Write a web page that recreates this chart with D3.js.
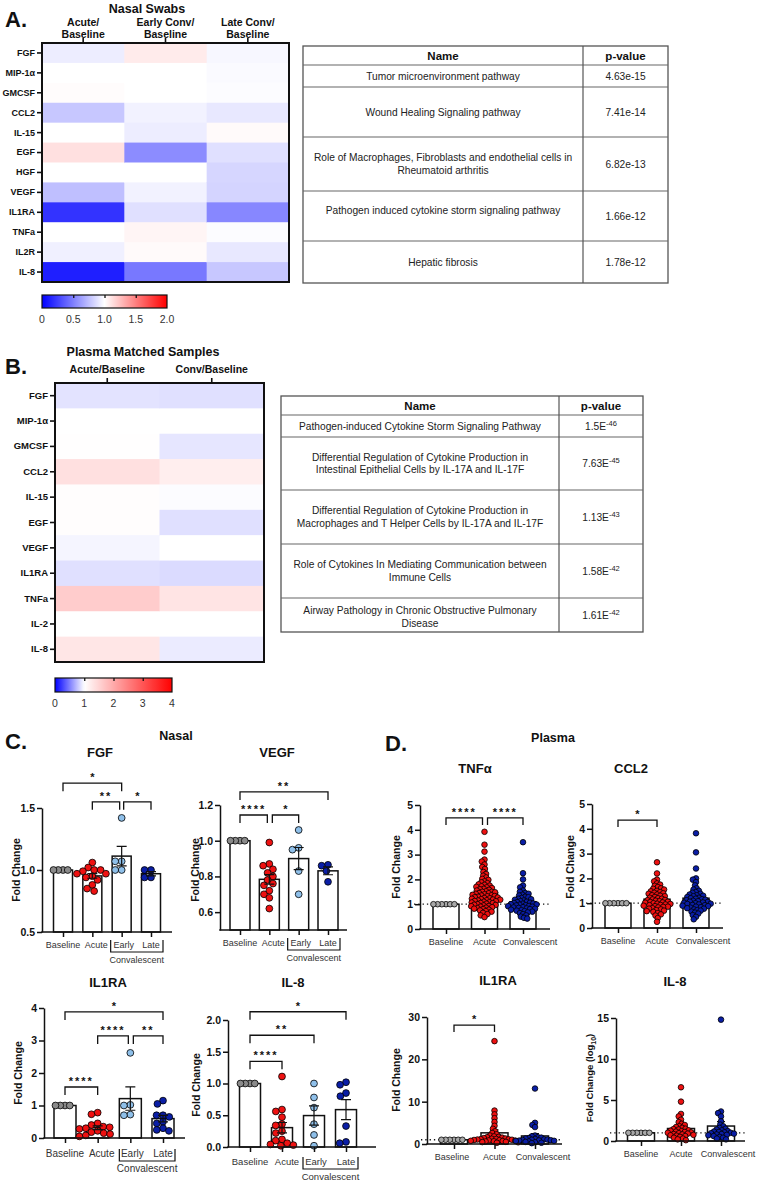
<!DOCTYPE html>
<html><head><meta charset="utf-8">
<script src="https://cdn.jsdelivr.net/npm/d3@7"></script>
<style>
body{margin:0;background:#fff;}
svg{display:block;font-family:"Liberation Sans",Arial,Helvetica,sans-serif;}
</style></head><body>
<svg id="fig" width="758" height="1181"></svg>
<script>
// ---------------- DATA ----------------
const heatRowsA = ["FGF","MIP-1α","GMCSF","CCL2","IL-15","EGF","HGF","VEGF","IL1RA","TNFa","IL2R","IL-8"];
const heatColsA = [["Acute/","Baseline"],["Early Conv/","Baseline"],["Late Conv/","Baseline"]];
const heatAcuteA = [0.93,1.0,1.01,0.78,1.0,1.12,1.0,0.75,0.2,1.0,0.94,0.12];
const heatEarlyA = [1.08,1.0,1.0,0.95,0.93,0.55,1.0,0.95,0.88,1.04,1.02,0.47];
const heatLateA  = [0.97,0.98,0.99,0.91,1.02,0.88,0.84,0.83,0.53,0.99,0.91,0.78];
const colorTicksA = [0,0.5,1.0,1.5,2.0];

const heatRowsB = ["FGF","MIP-1α","GMCSF","CCL2","IL-15","EGF","VEGF","IL1RA","TNFa","IL-2","IL-8"];
const heatColsB = [["Acute/Baseline"],["Conv/Baseline"]];
const heatAcuteB = [0.89,1.0,1.01,1.36,1.02,1.02,0.96,0.88,1.6,1.0,1.3];
const heatConvB  = [0.88,1.0,0.9,1.2,0.99,0.88,1.0,0.86,1.32,1.0,0.92];
const colorTicksB = [0,1,2,3,4];

const tableHeader = ["Name","p-value"];
const tableANames = [["Tumor microenvironment pathway"],["Wound Healing Signaling pathway"],
  ["Role of Macrophages, Fibroblasts and endothelial cells in","Rheumatoid arthritis"],
  ["Pathogen induced cytokine storm signaling pathway"],["Hepatic fibrosis"]];
const tableAP = ["4.63e-15","7.41e-14","6.82e-13","1.66e-12","1.78e-12"];
const tableBNames = [["Pathogen-induced Cytokine Storm Signaling Pathway"],
  ["Differential Regulation of Cytokine Production in","Intestinal Epithelial Cells by IL-17A and IL-17F"],
  ["Differential Regulation of Cytokine Production in","Macrophages and T Helper Cells by IL-17A and IL-17F"],
  ["Role of Cytokines In Mediating Communication between","Immune Cells"],
  ["Airway Pathology in Chronic Obstructive Pulmonary","Disease"]];
const tableBMant = ["1.5E","7.63E","1.13E","1.58E","1.61E"];
const tableBExp = ["-46","-45","-43","-42","-42"];

const nasalCats = ["Baseline","Acute","Early","Late"];
const fgfBase = [1,1,1,1];
const fgfAcute = [1.06,1.02,1.0,1.0,0.99,0.97,0.97,0.95,0.94,0.92,0.88,0.85,0.83];
const fgfEarly = [1.42,1.07,1.07,1.0,1.0];
const fgfLate = [1.0,1.0,0.94,0.94];
const vegfBase = [1,1,1,1];
const vegfAcute = [0.99,0.87,0.86,0.84,0.82,0.80,0.78,0.76,0.75,0.72,0.70,0.68,0.62];
const vegfEarly = [1.06,0.96,0.95,0.83,0.70];
const vegfLate = [0.865,0.86,0.83,0.77];
const il1raNBase = [1,1,1,1];
const il1raNAcute = [0.78,0.73,0.45,0.40,0.35,0.33,0.30,0.28,0.22,0.18,0.15,0.12,0.08,0.05];
const il1raNEarly = [2.62,1.02,1.0,0.72,0.70];
const il1raNLate = [1.15,1.05,0.7,0.7,0.65,0.5,0.45,0.3,0.25,0.22];
const il8NBase = [1,1,1,1];
const il8NAcute = [1.11,0.59,0.56,0.47,0.36,0.34,0.25,0.22,0.12,0.10,0.06,0.04,0.03,0.02];
const il8NEarly = [1.0,0.78,0.62,0.36,0.19,0.02];
const il8NLate = [1.02,0.98,0.85,0.80,0.33,0.08,0.06];

const plasmaCats = ["Baseline","Acute","Convalescent"];
const tnfBase = [1,1,1,1,1,1];
const tnfAcute = [3.92,3.4,3.12,2.8,2.72,2.6,2.5,2.42,2.3,2.22,2.15,2.08,2.02,1.98,1.92,1.88,1.85,1.8,1.78,1.75,1.72,1.7,1.68,1.65,1.62,1.6,1.58,1.55,1.52,1.5,1.5,1.48,1.45,1.44,1.42,1.4,1.38,1.36,1.35,1.33,1.32,1.3,1.28,1.27,1.25,1.24,1.22,1.2,1.19,1.18,1.16,1.15,1.13,1.12,1.1,1.08,1.07,1.05,1.04,1.02,1.0,0.98,0.97,0.95,0.93,0.92,0.9,0.88,0.86,0.84,0.82,0.8,0.78,0.75,0.72,0.7,0.65,0.6,0.55,0.48];
const tnfConv = [3.5,2.25,2.0,1.75,1.68,1.55,1.5,1.45,1.42,1.38,1.35,1.3,1.28,1.25,1.22,1.2,1.18,1.15,1.12,1.1,1.08,1.06,1.05,1.03,1.02,1.0,0.99,0.98,0.96,0.95,0.93,0.92,0.9,0.88,0.87,0.85,0.83,0.82,0.8,0.78,0.76,0.74,0.72,0.7,0.67,0.64,0.6,0.55,0.5,0.45,0.42];
const ccl2Base = [1,1,1,1,1,1];
const ccl2Acute = [2.65,2.2,1.95,1.88,1.8,1.75,1.7,1.65,1.6,1.58,1.55,1.5,1.48,1.45,1.42,1.4,1.38,1.35,1.32,1.3,1.28,1.25,1.22,1.2,1.18,1.15,1.13,1.12,1.1,1.08,1.06,1.05,1.03,1.02,1.0,0.98,0.97,0.95,0.93,0.92,0.9,0.88,0.86,0.85,0.83,0.8,0.78,0.75,0.72,0.7,0.68,0.65,0.6,0.55,0.5,0.4,0.25];
const ccl2Conv = [3.82,3.05,2.4,2.0,1.95,1.85,1.72,1.6,1.55,1.5,1.45,1.42,1.38,1.35,1.32,1.3,1.28,1.25,1.22,1.2,1.18,1.16,1.14,1.12,1.1,1.08,1.06,1.05,1.03,1.02,1.0,0.98,0.97,0.95,0.93,0.92,0.9,0.88,0.86,0.84,0.82,0.8,0.78,0.75,0.72,0.7,0.66,0.62,0.58,0.52,0.45,0.35];
const il1raPBase = [1,1,1,1,1,1];
const il1raPAcute = [24.3,7.9,7.0,6.1,5.2,4.3,3.6,3.0,2.6,2.3,2.0,1.8,1.7,1.6,1.5,1.4,1.3,1.25,1.2,1.15,1.1,1.05,1.0,0.95,0.9,0.85,0.8,0.75,0.7,0.65,0.6,0.5,0.45,0.4,0.3];
const il1raPConv = [13.1,5.0,4.5,4.0,2.0,1.8,1.6,1.5,1.4,1.3,1.2,1.1,1.05,1.0,0.95,0.9,0.85,0.8,0.75,0.7,0.6,0.5,0.4,0.3,0.2];
const il8PBase = [1,1,1,1,1,1];
const il8PAcute = [6.55,4.8,3.3,3.0,2.6,2.3,2.1,1.95,1.8,1.7,1.6,1.5,1.45,1.4,1.3,1.25,1.2,1.15,1.1,1.05,1.0,0.95,0.9,0.85,0.8,0.75,0.7,0.65,0.6,0.5,0.4,0.3,0.2,0.1];
const il8PConv = [14.8,3.6,3.4,3.0,2.4,2.0,1.8,1.6,1.5,1.4,1.3,1.2,1.15,1.1,1.05,1.0,0.95,0.9,0.85,0.8,0.75,0.7,0.6,0.5,0.4,0.3,0.2];

// ---------------- DRAWING ----------------
const svg = d3.select("#fig");
const INK = "#111";
function txt(g, x, y, s, o = {}) {
  return g.append("text").attr("x", x).attr("y", y).text(s)
    .attr("font-size", o.size || 11).attr("font-weight", o.bold ? "bold" : "normal")
    .attr("text-anchor", o.anchor || "middle").attr("fill", o.fill || INK);
}

txt(svg, 5, 27, "A.", {size: 22, bold: true, anchor: "start"});
txt(svg, 147, 13, "Nasal Swabs", {size: 12.5, bold: true});
txt(svg, 5, 374, "B.", {size: 22, bold: true, anchor: "start"});
txt(svg, 143, 356, "Plasma Matched Samples", {size: 12.5, bold: true});
txt(svg, 5, 749, "C.", {size: 22, bold: true, anchor: "start"});
txt(svg, 176, 740, "Nasal", {size: 12.5, bold: true});
txt(svg, 385, 751, "D.", {size: 22, bold: true, anchor: "start"});
txt(svg, 553, 742, "Plasma", {size: 12.5, bold: true});

function heatmap(o) {
  const g = svg.append("g");
  const x = d3.scaleBand().domain(d3.range(o.cols.length)).range([o.x0, o.x1]);
  const y = d3.scaleBand().domain(o.rows).range([o.y0, o.y1]);
  o.matrix.forEach((colVals, ci) => {
    g.selectAll(null).data(colVals).enter().append("rect")
      .attr("x", x(ci)).attr("y", (d, i) => y(o.rows[i]))
      .attr("width", x.bandwidth() + 0.6).attr("height", y.bandwidth() + 0.6)
      .attr("fill", d => o.color(d));
  });
  g.append("rect").attr("x", o.x0).attr("y", o.y0).attr("width", o.x1 - o.x0).attr("height", o.y1 - o.y0)
    .attr("fill", "none").attr("stroke", INK).attr("stroke-width", 2);
  const ya = g.append("g").attr("transform", `translate(${o.x0},0)`)
    .call(d3.axisLeft(y).tickSize(5).tickPadding(2));
  ya.select(".domain").remove();
  ya.selectAll("line").attr("stroke", INK).attr("stroke-width", 1.6);
  ya.selectAll("text").attr("font-size", o.rowFont).attr("font-weight", "bold").attr("fill", INK)
    .attr("font-family", "Liberation Sans, Arial, sans-serif");
  const xa = g.append("g").attr("transform", `translate(0,${o.y0})`)
    .call(d3.axisTop(x).tickSize(5).tickFormat(""));
  xa.select(".domain").remove();
  xa.selectAll("line").attr("stroke", INK).attr("stroke-width", 1.6);
  o.cols.forEach((lines, ci) => {
    lines.forEach((l, li) => txt(g, x(ci) + x.bandwidth() / 2, o.headY[li], l, {size: 10.5, bold: true}));
  });
}

function colorbar(o) {
  const id = "grad" + o.id;
  const grad = svg.append("defs").append("linearGradient").attr("id", id);
  const s = d3.scaleLinear().domain([o.ticks[0], o.ticks[o.ticks.length - 1]]).range([o.x0, o.x1]);
  d3.range(0, 1.0001, 0.02).forEach(t => {
    const v = o.ticks[0] + t * (o.ticks[o.ticks.length - 1] - o.ticks[0]);
    grad.append("stop").attr("offset", (t * 100) + "%").attr("stop-color", o.color(v));
  });
  svg.append("rect").attr("x", o.x0).attr("y", o.y0).attr("width", o.x1 - o.x0).attr("height", o.h)
    .attr("fill", `url(#${id})`).attr("stroke", INK).attr("stroke-width", 1.2);
  const ax = svg.append("g").attr("transform", `translate(0,${o.y0})`)
    .call(d3.axisTop(s).tickValues(o.ticks.slice(1, -1)).tickSize(-3).tickFormat(""));
  ax.select(".domain").remove();
  ax.selectAll("line").attr("stroke", INK).attr("stroke-width", 1.3);
  svg.append("g").selectAll("text").data(o.ticks).enter().append("text")
    .attr("x", d => s(d)).attr("y", o.labelY).attr("text-anchor", "middle")
    .attr("font-size", 10.5).attr("fill", "#333").text(d => o.fmt(d));
}

const colorA = d3.scaleLinear().domain([0, 1, 2]).range(["#0000ff", "#ffffff", "#ff0000"]).clamp(true);
const colorB = d3.scaleLinear().domain([0, 1, 4]).range(["#0000ff", "#ffffff", "#ff0000"]).clamp(true);

heatmap({rows: heatRowsA, cols: heatColsA, matrix: [heatAcuteA, heatEarlyA, heatLateA], color: colorA,
  x0: 42, x1: 289, y0: 43, y1: 282, rowFont: 9, headY: [26, 38]});
colorbar({id: "A", x0: 42, x1: 167, y0: 295, h: 13, labelY: 323, ticks: colorTicksA, color: colorA,
  fmt: d => d === 0 ? "0" : d3.format(".1f")(d)});
heatmap({rows: heatRowsB, cols: heatColsB, matrix: [heatAcuteB, heatConvB], color: colorB,
  x0: 55, x1: 264, y0: 383, y1: 662, rowFont: 9.5, headY: [373]});
colorbar({id: "B", x0: 55, x1: 172, y0: 678, h: 14, labelY: 707, ticks: colorTicksB, color: colorB,
  fmt: d => String(d)});

function table(o) {
  const g = svg.append("g");
  const bounds = [o.y0];
  o.heights.forEach(h => bounds.push(bounds[bounds.length - 1] + h));
  const yEnd = bounds[bounds.length - 1];
  g.append("rect").attr("x", o.x0).attr("y", o.y0).attr("width", o.x1 - o.x0).attr("height", yEnd - o.y0)
    .attr("fill", "none").attr("stroke", "#555").attr("stroke-width", 1.3);
  bounds.slice(1, -1).forEach(b => g.append("line").attr("x1", o.x0).attr("x2", o.x1).attr("y1", b).attr("y2", b)
    .attr("stroke", "#666").attr("stroke-width", 1.1));
  g.append("line").attr("x1", o.xDiv).attr("x2", o.xDiv).attr("y1", o.y0).attr("y2", yEnd)
    .attr("stroke", "#555").attr("stroke-width", 1.2);
  const cN = (o.x0 + o.xDiv) / 2, cP = (o.xDiv + o.x1) / 2;
  const hc = (bounds[0] + bounds[1]) / 2 + 4;
  txt(g, cN, hc, tableHeader[0], {size: 11.5, bold: true});
  txt(g, cP, hc, tableHeader[1], {size: 11.5, bold: true});
  o.names.forEach((lines, i) => {
    const c = (bounds[i + 1] + bounds[i + 2]) / 2;
    const sh = (o.nameShift && o.nameShift[i]) || 0;
    lines.forEach((l, li) => txt(g, cN, c + sh + (li - (lines.length - 1) / 2) * o.lh + 3.5, l, {size: 10.2, fill: "#222"}));
    const t = txt(g, cP, c + 3.5, o.pMant ? o.pMant[i] : o.p[i], {size: 10.2, fill: "#222"});
    if (o.pExp) t.append("tspan").attr("font-size", 7.5).attr("dy", -4).text(o.pExp[i]);
  });
}
table({x0: 303, xDiv: 583, x1: 668, y0: 46, heights: [19, 22, 50, 54, 50, 42], lh: 13,
  names: tableANames, p: tableAP, nameShift: [0, 0, 0, -6, 0]});
table({x0: 281, xDiv: 559, x1: 643, y0: 396, heights: [19, 22, 53, 54, 54, 34], lh: 12.5,
  names: tableBNames, pMant: tableBMant, pExp: tableBExp, nameShift: [0, 0, 0, 0, 2]});

function swarm(vals, y, r, factor) {
  const d = 2 * r * factor;
  const pts = vals.map(v => ({v, py: y(v)})).sort((a, b) => d3.descending(a.v, b.v));
  const placed = [];
  pts.forEach(p => {
    const iv = [];
    placed.forEach(q => {
      const dy = Math.abs(q.py - p.py);
      if (dy < d) { const w = Math.sqrt(d * d - dy * dy); iv.push([q.dx - w, q.dx + w]); }
    });
    const cands = [0];
    iv.forEach(v => cands.push(v[0], v[1]));
    cands.sort((a, b) => Math.abs(a) - Math.abs(b) || a - b);
    let dx = 0;
    for (const c of cands) {
      if (iv.every(v => c <= v[0] + 1e-6 || c >= v[1] - 1e-6)) { dx = c; break; }
    }
    p.dx = dx; placed.push(p);
  });
  return pts;
}

function chart(c) {
  const g = svg.append("g");
  const x = d3.scalePoint().domain(c.cats).range(c.centers);
  const y = d3.scaleLinear().domain(c.yDomain).range(c.yRange);
  const base = c.yRange[0];
  const stats = c.groups.map((vals, i) => {
    const sd = vals.length > 1 ? d3.deviation(vals) : 0;
    return {cat: c.cats[i], mean: d3.mean(vals), sem: sd / Math.sqrt(vals.length), vals, color: c.colors[i], i};
  });
  g.selectAll(null).data(stats).enter().append("rect")
    .attr("x", d => x(d.cat) - c.barW / 2).attr("y", d => y(d.mean))
    .attr("width", c.barW).attr("height", d => base - y(d.mean))
    .attr("fill", "#fff").attr("stroke", INK).attr("stroke-width", 1.5);
  if (c.refLine) {
    g.append("line").attr("x1", c.axisX[0] - 6).attr("x2", c.axisX[1]).attr("y1", y(1)).attr("y2", y(1))
      .attr("stroke", INK).attr("stroke-width", 1.3).attr("stroke-dasharray", "1.3,3");
  }
  const errG = g.append("g");
  const drawErr = () => {
    stats.filter(d => d.sem > 0).forEach(d => {
      const cx = x(d.cat);
      errG.append("path").attr("d",
        `M${cx},${y(d.mean)}V${y(d.mean + d.sem)}M${cx - c.cap},${y(d.mean + d.sem)}H${cx + c.cap}` +
        `M${cx},${y(d.mean)}V${y(d.mean - d.sem)}M${cx - c.cap},${y(d.mean - d.sem)}H${cx + c.cap}`)
        .attr("stroke", INK).attr("stroke-width", 1.2).attr("fill", "none");
    });
  };
  if (!c.errOnTop) drawErr();
  stats.forEach(d => {
    const pts = swarm(d.vals, y, c.r, d.i === 0 ? c.baseFactor : c.factor);
    g.append("g").selectAll("circle").data(pts).enter().append("circle")
      .attr("cx", p => x(d.cat) + p.dx).attr("cy", p => p.py).attr("r", c.r)
      .attr("fill", d.color).attr("stroke", "#000").attr("stroke-width", 0.8);
  });
  if (c.errOnTop) { errG.raise(); drawErr(); }
  const ya = g.append("g").attr("transform", `translate(${c.axisX[0]},0)`)
    .call(d3.axisLeft(y).tickValues(c.ticks).tickFormat(c.fmt).tickSize(5).tickSizeOuter(0).tickPadding(2));
  ya.selectAll("path,line").attr("stroke", INK).attr("stroke-width", 1.5);
  ya.selectAll("text").attr("font-size", 10.5).attr("font-weight", "bold").attr("fill", INK)
    .attr("font-family", "Liberation Sans, Arial, sans-serif");
  g.append("line").attr("x1", c.axisX[0] - 0.75).attr("x2", c.axisX[1]).attr("y1", base).attr("y2", base)
    .attr("stroke", INK).attr("stroke-width", 1.5);
  const xa = g.append("g").attr("transform", `translate(0,${base})`)
    .call(d3.axisBottom(x).tickSize(5).tickFormat(""));
  xa.select(".domain").remove();
  xa.selectAll("line").attr("stroke", INK).attr("stroke-width", 1.5);
  const lb = base + c.labelDy;
  c.cats.forEach((cat, i) => txt(g, x(cat) + c.labelOff[i], lb, cat, {size: c.xFont, fill: "#333"}));
  if (c.convBracket) {
    const xl = x("Early") + c.labelOff[2] - 13, xr = x("Late") + c.labelOff[3] + 12;
    g.append("path").attr("d", `M${xl},${lb - 8}V${lb + 4}H${xr}V${lb - 8}`)
      .attr("stroke", INK).attr("stroke-width", 1.2).attr("fill", "none");
    txt(g, (xl + xr) / 2, lb + 15, "Convalescent", {size: c.xFont, fill: "#333"});
  }
  c.sigs.forEach(s => {
    const x1 = x(c.cats[s.a]) + (s.da || 0), x2 = x(c.cats[s.b]) + (s.db || 0), yy = y(s.y);
    g.append("path").attr("d", `M${x1},${yy + c.leg}V${yy}H${x2}V${yy + c.leg}`)
      .attr("stroke", INK).attr("stroke-width", 1.3).attr("fill", "none");
    txt(g, (x1 + x2) / 2, yy - 2, s.t, {size: 11, bold: true}).attr("letter-spacing", s.t.length > 1 ? 2 : 0);
  });
  txt(g, c.title[1], c.title[2], c.title[0], {size: 13, bold: true});
  const yl = g.append("text").attr("transform", `translate(${c.ylab[0]},${c.ylab[1]}) rotate(-90)`)
    .attr("text-anchor", "middle").attr("font-size", c.ylabSize || 10.5).attr("font-weight", "bold").attr("fill", INK)
    .text(c.ylabText || "Fold Change");
  if (c.ylabSub) {
    yl.append("tspan").attr("font-size", 7).attr("dy", 2.5).text(c.ylabSub);
    yl.append("tspan").attr("dy", -2.5).text(")");
  }
}

const nasalColors = ["#8a8a8a", "#ee1111", "#8fc0ea", "#0a1ea6"];
const plasmaColors = ["#a8a8a8", "#ee1111", "#0a1ea6"];
const f1 = d3.format(".1f"), fd = d3.format("d");
const nasalCommon = {cats: nasalCats, colors: nasalColors, r: 3.4, factor: 0.95, baseFactor: 0.7, cap: 5,
  errOnTop: true, convBracket: true, labelDy: 16, xFont: 9, leg: 8, labelOff: [0, 4, 2, 0]};
const plasmaCommon = {cats: plasmaCats, colors: plasmaColors, r: 2.8, factor: 0.6, baseFactor: 0.75, cap: 4,
  errOnTop: false, refLine: true, labelDy: 16, xFont: 9, leg: 7, labelOff: [0, 0, 7]};

chart(Object.assign({}, nasalCommon, {groups: [fgfBase, fgfAcute, fgfEarly, fgfLate],
  axisX: [42, 172], centers: [63, 151], yDomain: [0.5, 1.5], yRange: [932, 808], ticks: [0.5, 1.0, 1.5], fmt: f1,
  barW: 19, title: ["FGF", 100, 757], ylab: [20, 870],
  sigs: [{a: 0, b: 2, y: 1.70, t: "*"}, {a: 1, b: 2, y: 1.55, t: "**", db: -2}, {a: 2, b: 3, y: 1.55, t: "*", da: 2}]}));
chart(Object.assign({}, nasalCommon, {groups: [vegfBase, vegfAcute, vegfEarly, vegfLate],
  axisX: [220, 347], centers: [240, 328], yDomain: [0.5, 1.2], yRange: [930, 805], ticks: [0.6, 0.8, 1.0, 1.2], fmt: f1,
  barW: 20, title: ["VEGF", 277, 757], ylab: [199, 870],
  sigs: [{a: 0, b: 3, y: 1.273, t: "**"}, {a: 0, b: 1, y: 1.144, t: "****", db: -2}, {a: 1, b: 2, y: 1.144, t: "*", da: 3}]}));
chart(Object.assign({}, nasalCommon, {groups: [il1raNBase, il1raNAcute, il1raNEarly, il1raNLate],
  axisX: [44, 185], centers: [65, 163], yDomain: [0, 4], yRange: [1138, 1008], ticks: [0, 1, 2, 3, 4], fmt: fd,
  barW: 22, title: ["IL1RA", 108, 987], ylab: [22, 1073], labelDy: 19, xFont: 10,
  sigs: [{a: 0, b: 3, y: 3.88, t: "*"}, {a: 1, b: 2, y: 3.14, t: "****", db: -2}, {a: 2, b: 3, y: 3.14, t: "**", da: 3},
    {a: 0, b: 1, y: 1.57, t: "****"}]}));
chart(Object.assign({}, nasalCommon, {groups: [il8NBase, il8NAcute, il8NEarly, il8NLate],
  axisX: [228, 376], centers: [250, 346], yDomain: [0, 2], yRange: [1147, 1020], ticks: [0, 0.5, 1, 1.5, 2], fmt: f1,
  barW: 21, title: ["IL-8", 293, 987], ylab: [200, 1085], labelDy: 18, xFont: 9.5, labelOff: [0, 5, 2, 0],
  sigs: [{a: 0, b: 3, y: 2.13, t: "*"}, {a: 0, b: 2, y: 1.76, t: "**"}, {a: 0, b: 1, y: 1.35, t: "****"}]}));

chart(Object.assign({}, plasmaCommon, {groups: [tnfBase, tnfAcute, tnfConv],
  axisX: [420, 550], centers: [446, 523], yDomain: [0, 5], yRange: [929, 805], ticks: [0, 1, 2, 3, 4, 5], fmt: fd,
  barW: 26, title: ["TNFα", 475, 773], ylab: [400, 867],
  sigs: [{a: 0, b: 1, y: 4.48, t: "****", db: -2}, {a: 1, b: 2, y: 4.48, t: "****", da: 3}]}));
chart(Object.assign({}, plasmaCommon, {groups: [ccl2Base, ccl2Acute, ccl2Conv],
  axisX: [592, 723], centers: [618, 696], yDomain: [0, 5], yRange: [928, 804], ticks: [0, 1, 2, 3, 4, 5], fmt: fd,
  barW: 26, title: ["CCL2", 631, 773], ylab: [574, 867],
  sigs: [{a: 0, b: 1, y: 4.35, t: "*"}]}));
chart(Object.assign({}, plasmaCommon, {groups: [il1raPBase, il1raPAcute, il1raPConv],
  axisX: [427, 562], centers: [454, 535], yDomain: [0, 30], yRange: [1144, 1017], ticks: [0, 10, 20, 30], fmt: fd,
  barW: 27, title: ["IL1RA", 498, 985], ylab: [400, 1080], labelOff: [-2, 0, 8],
  sigs: [{a: 0, b: 1, y: 28.1, t: "*"}]}));
chart(Object.assign({}, plasmaCommon, {groups: [il8PBase, il8PAcute, il8PConv],
  axisX: [616, 745], centers: [641, 721], yDomain: [0, 15], yRange: [1141, 1018], ticks: [0, 5, 10, 15], fmt: fd,
  barW: 27, title: ["IL-8", 675, 986], ylab: [593, 1078], ylabSize: 9.5,
  ylabText: "Fold Change (log", ylabSub: "10", sigs: []}));
</script>
</body></html>
